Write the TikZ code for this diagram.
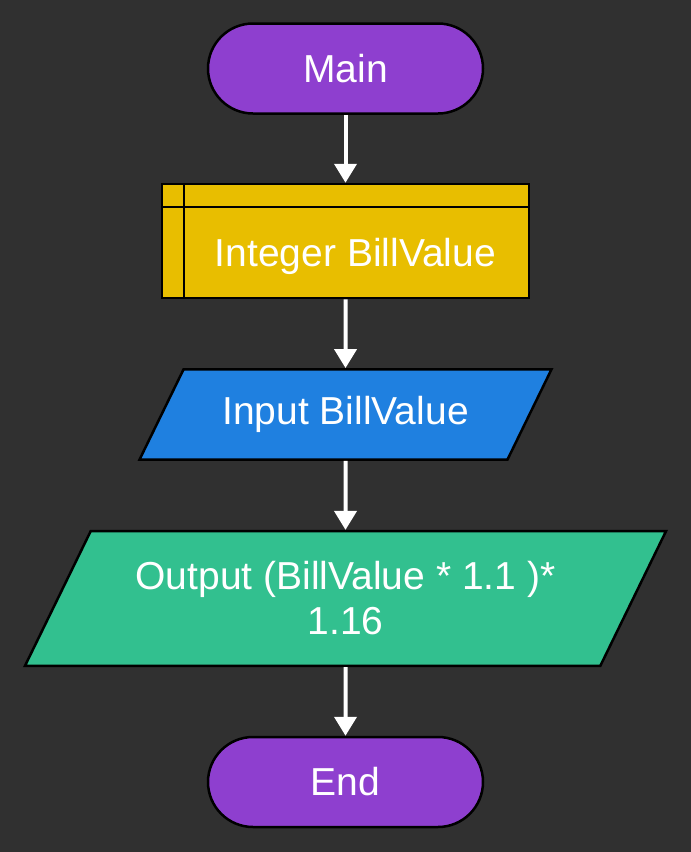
\documentclass[tikz,border=0pt]{standalone}
\usepackage{fontspec}
\setmainfont{Liberation Sans}
\usepackage{xcolor}
\usetikzlibrary{positioning,calc,arrows.meta,shapes.geometric}

\definecolor{bgdark}{HTML}{303030}
\definecolor{termpurple}{HTML}{8E3FCF}
\definecolor{declyellow}{HTML}{E8BE00}
\definecolor{inblue}{HTML}{1F80E0}
\definecolor{outgreen}{HTML}{32C08F}

\begin{document}
\begin{tikzpicture}[x=1pt,y=-1pt,
    term/.style={rectangle,rounded corners=45pt,draw=black,line width=2.5pt,minimum width=275pt,minimum height=90pt,fill=termpurple,text=white,font=\fontsize{39}{45}\selectfont},
    decl/.style={rectangle,draw=black,line width=2.5pt,minimum width=367pt,minimum height=114pt,fill=declyellow},
    io/.style={trapezium,trapezium left angle=64,trapezium right angle=116,trapezium stretches body,draw=black,line width=2.5pt,text=white,align=center,font=\fontsize{39}{45}\selectfont},
    lbl/.style={text=white,font=\fontsize{39}{45}\selectfont},
    flow/.style={-{Triangle[length=19pt,width=22pt]},draw=white,line width=4pt}]

\fill[bgdark] (0,0) rectangle (691,852);
\useasboundingbox (0,0) rectangle (691,852);

\node[term] (main) at (345.5,68.5) {Main};
\node[decl] (var) at (345.5,241) {};
\draw[line width=2.5pt] ($(var.north west)+(0,24)$) -- ($(var.north east)+(0,24)$);
\draw[line width=2.5pt] ($(var.north west)+(23,0)$) -- ($(var.south west)+(23,0)$);
\node[lbl] (vartext) at (355.5,256) {Integer BillValue};
\node[io,fill=inblue,inner ysep=27pt,minimum width=412pt] (input) at (345.5,414.5) {Input BillValue};
\node[io,fill=outgreen,inner ysep=30.5pt,minimum width=641pt] (output) at (345.5,598.5) {Output (BillValue * 1.1 )*\\1.16};
\node[term] (end) at (345.5,782) {End};

\draw[flow] (main) -- (var);
\draw[flow] (var) -- (input);
\draw[flow] (input) -- (output);
\draw[flow] (output) -- (end);

\end{tikzpicture}
\end{document}
